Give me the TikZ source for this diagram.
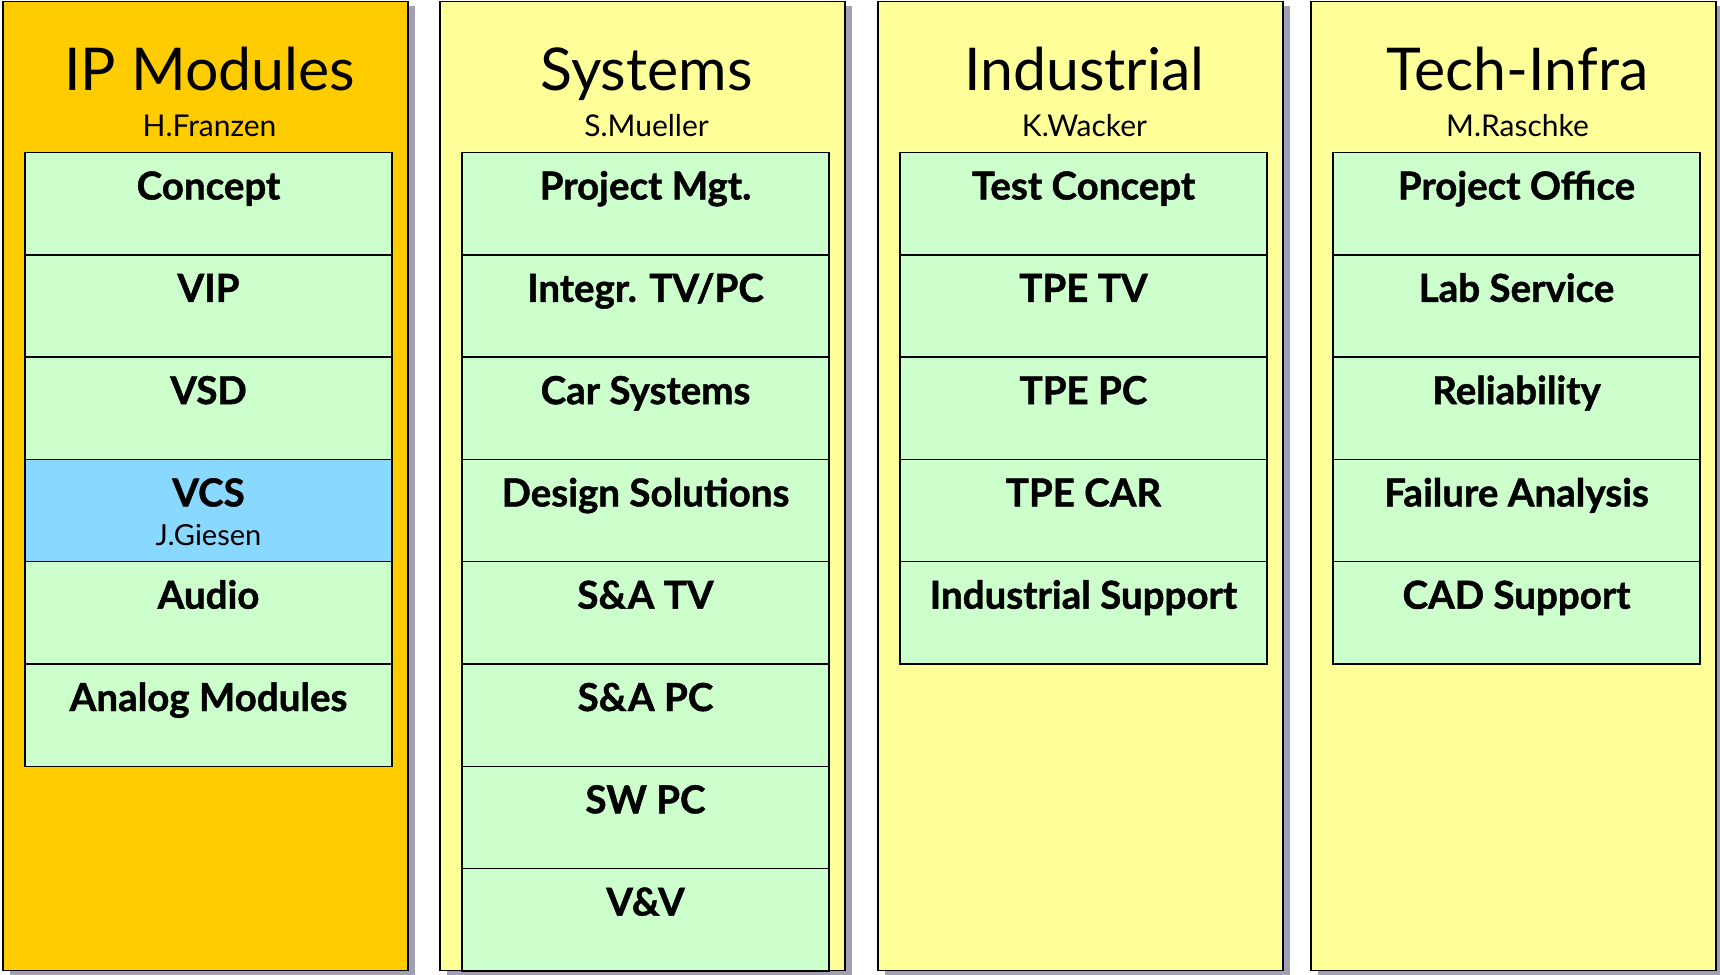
\documentclass[tikz,border=0pt]{standalone}
\usepackage{fontspec}
\setmainfont{Lato}[BoldFeatures={FakeBold=1.2}]
\usetikzlibrary{positioning, shadows}
\definecolor{ipgold}{HTML}{FFCC00}
\definecolor{deptyellow}{HTML}{FFFF99}
\definecolor{unitgreen}{HTML}{CCFFCC}
\definecolor{vcsblue}{HTML}{88D8FF}
\definecolor{shadowgray}{HTML}{A0A0B2}
\tikzset{dept/.style={draw, line width=1.5pt, outer sep=0pt, inner sep=0pt, minimum width=405pt, minimum height=969pt, drop shadow={shadow xshift=7pt, shadow yshift=-5pt, fill=shadowgray, opacity=1}}}
\tikzset{unit/.style={draw, fill=unitgreen, line width=1.5pt, outer sep=0pt, inner sep=0pt, minimum width=367pt, text height=47pt, text depth=55.3pt, font=\fontsize{38.5}{42}\selectfont\bfseries}}
\tikzset{depttitle/.style={anchor=base, font=\fontsize{59}{65}\selectfont}}
\tikzset{deptlead/.style={anchor=base, font=\fontsize{30}{34}\selectfont}}

\begin{document}
\begin{tikzpicture}[x=1pt, y=1pt]
\useasboundingbox (0,0) rectangle (1720,-974);
% departments
\node[dept, fill=ipgold, anchor=north west] (ip) at (3,-1.5) {};
\node[dept, fill=deptyellow, right=32pt of ip] (sys) {};
\node[dept, fill=deptyellow, right=33pt of sys] (ind) {};
\node[dept, fill=deptyellow, right=28pt of ind] (tech) {};

\node[below=88.5pt of ip.north, xshift=4pt, depttitle] (iptitle) {IP Modules};
\node[below=134.5pt of ip.north, xshift=4pt, deptlead] (iplead) {H.Franzen};
\node[below=88.5pt of sys.north, xshift=4pt, depttitle] (systitle) {Systems};
\node[below=134.5pt of sys.north, xshift=4pt, deptlead] (syslead) {S.Mueller};
\node[below=88.5pt of ind.north, xshift=4pt, depttitle] (indtitle) {Industrial};
\node[below=134.5pt of ind.north, xshift=4pt, deptlead] (indlead) {K.Wacker};
\node[below=88.5pt of tech.north, xshift=4pt, depttitle] (techtitle) {Tech-Infra};
\node[below=134.5pt of tech.north, xshift=4pt, deptlead] (techlead) {M.Raschke};

% IP Modules
\node[below=151pt of ip.north, xshift=3pt, unit] (concept) {Concept};
\node[below=0pt of concept, unit] (vip) {VIP};
\node[below=0pt of vip, unit] (vsd) {VSD};
\node[below=0pt of vsd, unit, fill=vcsblue] (vcs) {VCS};
\node[below=86pt of vcs.north, deptlead, font=\fontsize{29}{33}\selectfont] (giesen) {J.Giesen};
\node[below=0pt of vcs, unit] (audio) {Audio};
\node[below=0pt of audio, unit] (analog) {Analog Modules};

% Systems
\node[below=151pt of sys.north, xshift=3pt, unit] (projmgt) {Project Mgt.};
\node[below=0pt of projmgt, unit] (integr) {Integr. TV/PC};
\node[below=0pt of integr, unit] (carsys) {Car Systems};
\node[below=0pt of carsys, unit] (design) {Design Solutions};
\node[below=0pt of design, unit] (satv) {S\&A TV};
\node[below=0pt of satv, unit] (sapc) {S\&A PC};
\node[below=0pt of sapc, unit] (swpc) {SW PC};
\node[below=0pt of swpc, unit] (vv) {V\&V};

% Industrial
\node[below=151pt of ind.north, xshift=3pt, unit] (testconc) {Test Concept};
\node[below=0pt of testconc, unit] (tpetv) {TPE TV};
\node[below=0pt of tpetv, unit] (tpepc) {TPE PC};
\node[below=0pt of tpepc, unit] (tpecar) {TPE CAR};
\node[below=0pt of tpecar, unit] (indsupp) {Industrial Support};

% Tech-Infra
\node[below=151pt of tech.north, xshift=3pt, unit] (projoff) {Project Office};
\node[below=0pt of projoff, unit] (labserv) {Lab Service};
\node[below=0pt of labserv, unit] (reliab) {Reliability};
\node[below=0pt of reliab, unit] (failure) {Failure Analysis};
\node[below=0pt of failure, unit] (cadsupp) {CAD Support};
\end{tikzpicture}
\end{document}
